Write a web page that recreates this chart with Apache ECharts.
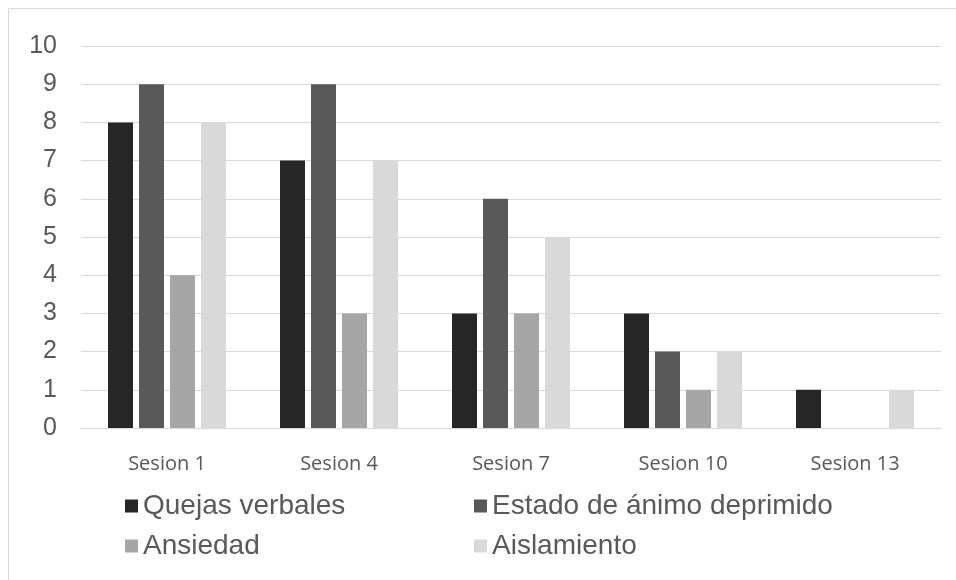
<!DOCTYPE html>
<html>
<head>
<meta charset="utf-8">
<script src="https://cdn.jsdelivr.net/npm/echarts@6/dist/echarts.min.js"></script>
<style>
  html, body { margin: 0; padding: 0; background: #ffffff; }
  #chart { width: 956px; height: 580px; }
</style>
</head>
<body>
<div id="chart"></div>
<script>
// Sessions and symptom counts per session
const sesiones = ['Sesion 1', 'Sesion 4', 'Sesion 7', 'Sesion 10', 'Sesion 13'];
const quejasVerbales = [8, 7, 3, 3, 1];
const estadoAnimo = [9, 9, 6, 2, 0];
const ansiedad = [4, 3, 3, 1, 0];
const aislamiento = [8, 7, 5, 2, 1];

const seriesNames = ['Quejas verbales', 'Estado de ánimo deprimido', 'Ansiedad', 'Aislamiento'];
const seriesData = [quejasVerbales, estadoAnimo, ansiedad, aislamiento];
const colors = ['#262626', '#595959', '#a6a6a6', '#d9d9d9'];

const chart = echarts.init(document.getElementById('chart'), null, { renderer: 'canvas' });

// one legend block per item, laid out in two columns
const legendPos = [
  { left: 125, top: 492 },
  { left: 474, top: 492 },
  { left: 125, top: 532 },
  { left: 474, top: 532 }
];

const option = {
  backgroundColor: '#ffffff',
  animation: false,
  color: colors,
  graphic: [{
    type: 'rect',
    shape: { x: 8.5, y: 8.5, width: 980, height: 620 },
    style: { fill: 'none', stroke: '#d9d9d9', lineWidth: 1 },
    silent: true
  }],
  grid: { left: 81, right: 15, top: 46, bottom: 152 },
  legend: seriesNames.map((name, i) => ({
    data: [name],
    left: legendPos[i].left,
    top: legendPos[i].top,
    icon: 'rect',
    itemWidth: 13,
    itemHeight: 13,
    padding: 0,
    textStyle: { fontFamily: 'Liberation Sans, Arial, sans-serif', fontSize: 28, color: '#595959' }
  })),
  xAxis: {
    type: 'category',
    data: sesiones,
    axisLine: { show: true, lineStyle: { color: '#d9d9d9', width: 1 } },
    axisTick: { show: false },
    axisLabel: {
      margin: 26,
      fontFamily: 'Open Sans, Noto Sans, sans-serif',
      fontSize: 20,
      color: '#595959'
    }
  },
  yAxis: {
    type: 'value',
    min: 0,
    max: 10,
    interval: 1,
    axisLine: { show: false },
    axisTick: { show: false },
    splitLine: { lineStyle: { color: '#d9d9d9', width: 1 } },
    axisLabel: {
      margin: 24,
      fontFamily: 'Liberation Sans, Arial, sans-serif',
      fontSize: 25,
      color: '#595959'
    }
  },
  series: seriesNames.map((name, i) => ({
    name: name,
    type: 'bar',
    data: seriesData[i],
    barWidth: 25,
    barGap: '24%',
    itemStyle: { color: colors[i] }
  }))
};

chart.setOption(option);
</script>
</body>
</html>
